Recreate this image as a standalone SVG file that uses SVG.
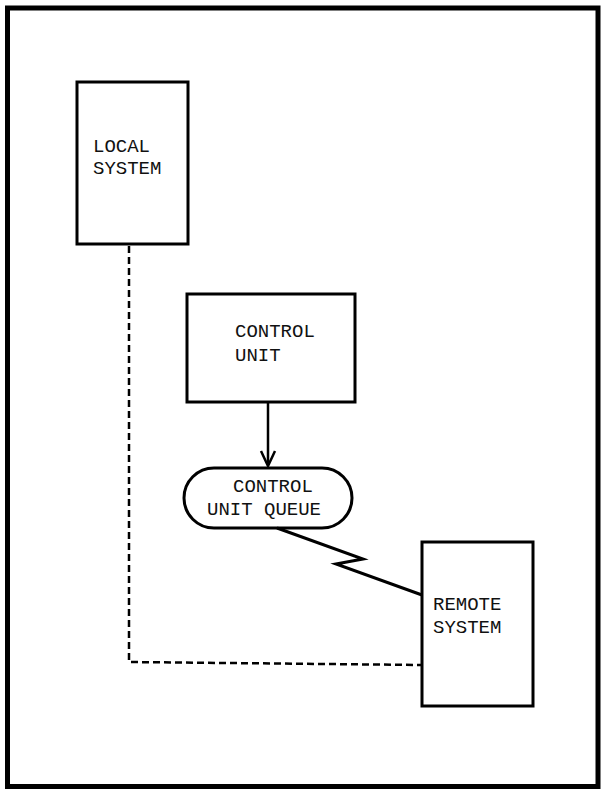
<svg xmlns="http://www.w3.org/2000/svg" width="601" height="793" viewBox="0 0 601 793">
<style>
.box{fill:none;stroke:#000;stroke-width:3}
.t{font-family:"Liberation Mono","DejaVu Sans Mono",monospace;font-size:19px;fill:#111}
.dash{fill:none;stroke:#000;stroke-width:2.5;stroke-dasharray:7,4}
.solid{fill:none;stroke:#000;stroke-width:3}
</style>
<rect x="0" y="0" width="601" height="793" fill="#fff"/>
<rect x="7.5" y="8" width="590.5" height="778.5" fill="none" stroke="#000" stroke-width="5"/>
<g id="connectors">
<path class="dash" d="M129,246 L129,662 L422,665"/>
<line x1="268" y1="402" x2="268" y2="465" stroke="#000" stroke-width="2.5"/>
<path d="M261,451 L268,466 L275,451" fill="none" stroke="#000" stroke-width="2.5"/>
<path class="solid" d="M277,528 L363,559 L336,564 L422,595"/>
</g>
<g id="local-system">
<rect class="box" x="77" y="82" width="111" height="162"/>
<text class="t" x="93" y="152">LOCAL</text>
<text class="t" x="93" y="174">SYSTEM</text>
</g>
<g id="control-unit">
<rect class="box" x="187" y="294" width="168" height="108"/>
<text class="t" x="235" y="337">CONTROL</text>
<text class="t" x="235" y="361">UNIT</text>
</g>
<g id="control-unit-queue">
<rect class="box" x="184" y="468" width="168" height="60" rx="30" ry="30"/>
<text class="t" x="233" y="492">CONTROL</text>
<text class="t" x="207" y="515">UNIT QUEUE</text>
</g>
<g id="remote-system">
<rect class="box" x="422" y="542" width="111" height="164"/>
<text class="t" x="433" y="610">REMOTE</text>
<text class="t" x="433" y="633">SYSTEM</text>
</g>
</svg>
